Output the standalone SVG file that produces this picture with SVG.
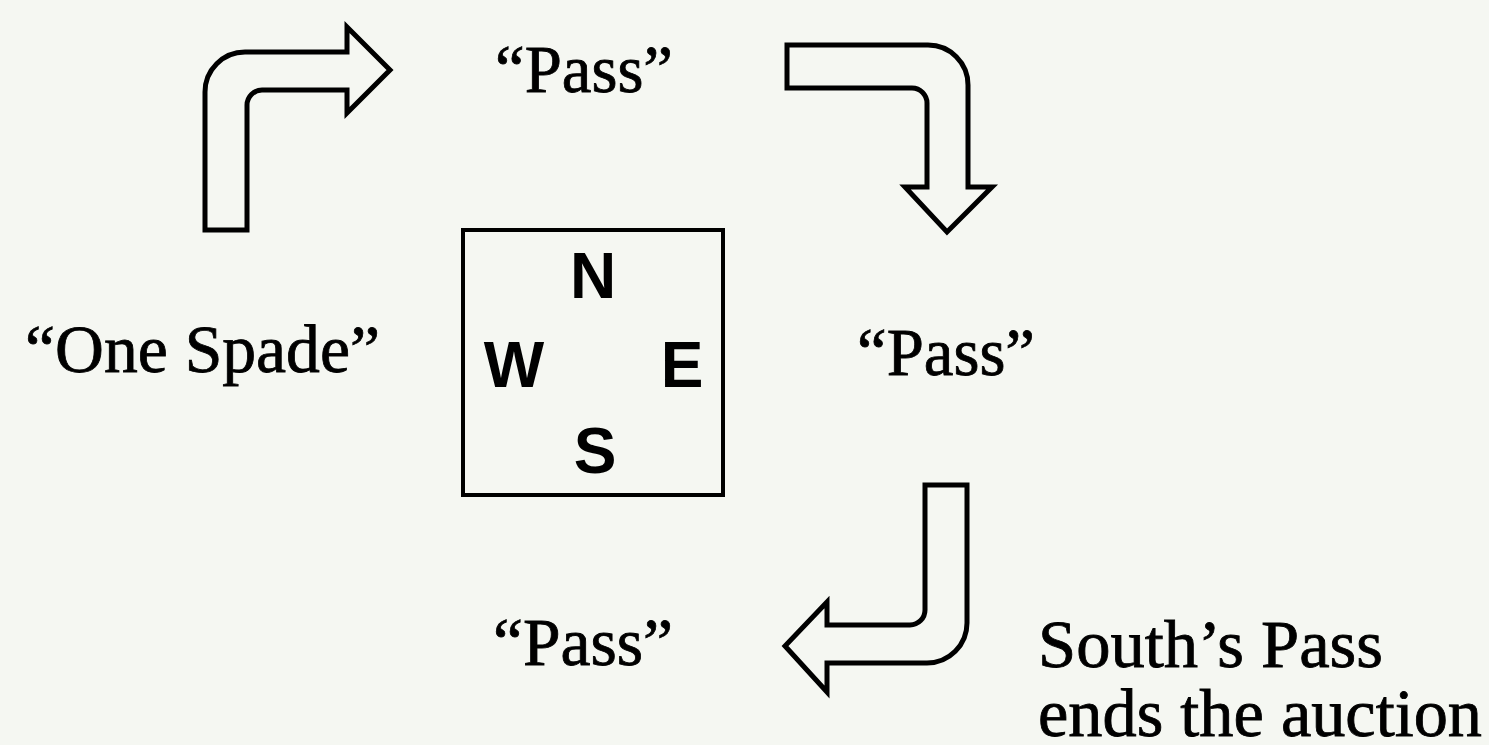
<svg xmlns="http://www.w3.org/2000/svg" width="1489" height="745" viewBox="0 0 1489 745">
<style>
.bg{fill:#f5f7f2}
.arrow{fill:#f5f7f2;stroke:#000;stroke-width:5;stroke-linejoin:miter}
.box{fill:#f5f7f2;stroke:#000;stroke-width:4}
.lbl{font-family:"Liberation Serif","Times New Roman",serif;font-size:67px;fill:#000;stroke:#000;stroke-width:0.8}
.dir{font-family:"Liberation Sans",Arial,sans-serif;font-weight:bold;font-size:64px;fill:#000;text-anchor:middle}
</style>
<rect class="bg" x="0" y="0" width="1489" height="745"/>
<g id="connectors">
<path id="arrow-west-north" class="arrow" d="M205,230 V92 A40,40 0 0 1 245,52 H347 V27 L390,70 L347,113 V90 H262 A15,15 0 0 0 247,105 V230 Z"/>
<path id="arrow-north-east" class="arrow" d="M787,45 H928 A40,40 0 0 1 968,85 V187 H992 L947,232 L905,187 H927 V103 A15,15 0 0 0 912,88 H787 Z"/>
<path id="arrow-east-south" class="arrow" d="M925,485 H967 V623 A40,40 0 0 1 927,663 H827 V692 L785,646 L827,602 V625 H910 A15,15 0 0 0 925,610 Z"/>
</g>
<g id="table">
<rect class="box" x="463" y="230" width="260" height="265"/>
<text class="dir" x="593" y="298">N</text>
<text class="dir" x="514" y="387">W</text>
<text class="dir" x="682" y="387">E</text>
<text class="dir" x="595" y="473">S</text>
</g>
<g id="west"><text class="lbl" x="25" y="372" textLength="355" lengthAdjust="spacingAndGlyphs">“One Spade”</text></g>
<g id="north"><text class="lbl" x="495" y="92" textLength="178" lengthAdjust="spacingAndGlyphs">“Pass”</text></g>
<g id="east"><text class="lbl" x="857" y="375" textLength="178" lengthAdjust="spacingAndGlyphs">“Pass”</text></g>
<g id="south"><text class="lbl" x="493" y="665" textLength="180" lengthAdjust="spacingAndGlyphs">“Pass”</text></g>
<g id="note">
<text class="lbl" x="1038" y="667" textLength="345" lengthAdjust="spacingAndGlyphs">South’s Pass</text>
<text class="lbl" x="1038" y="736" textLength="444" lengthAdjust="spacingAndGlyphs">ends the auction</text>
</g>
</svg>
